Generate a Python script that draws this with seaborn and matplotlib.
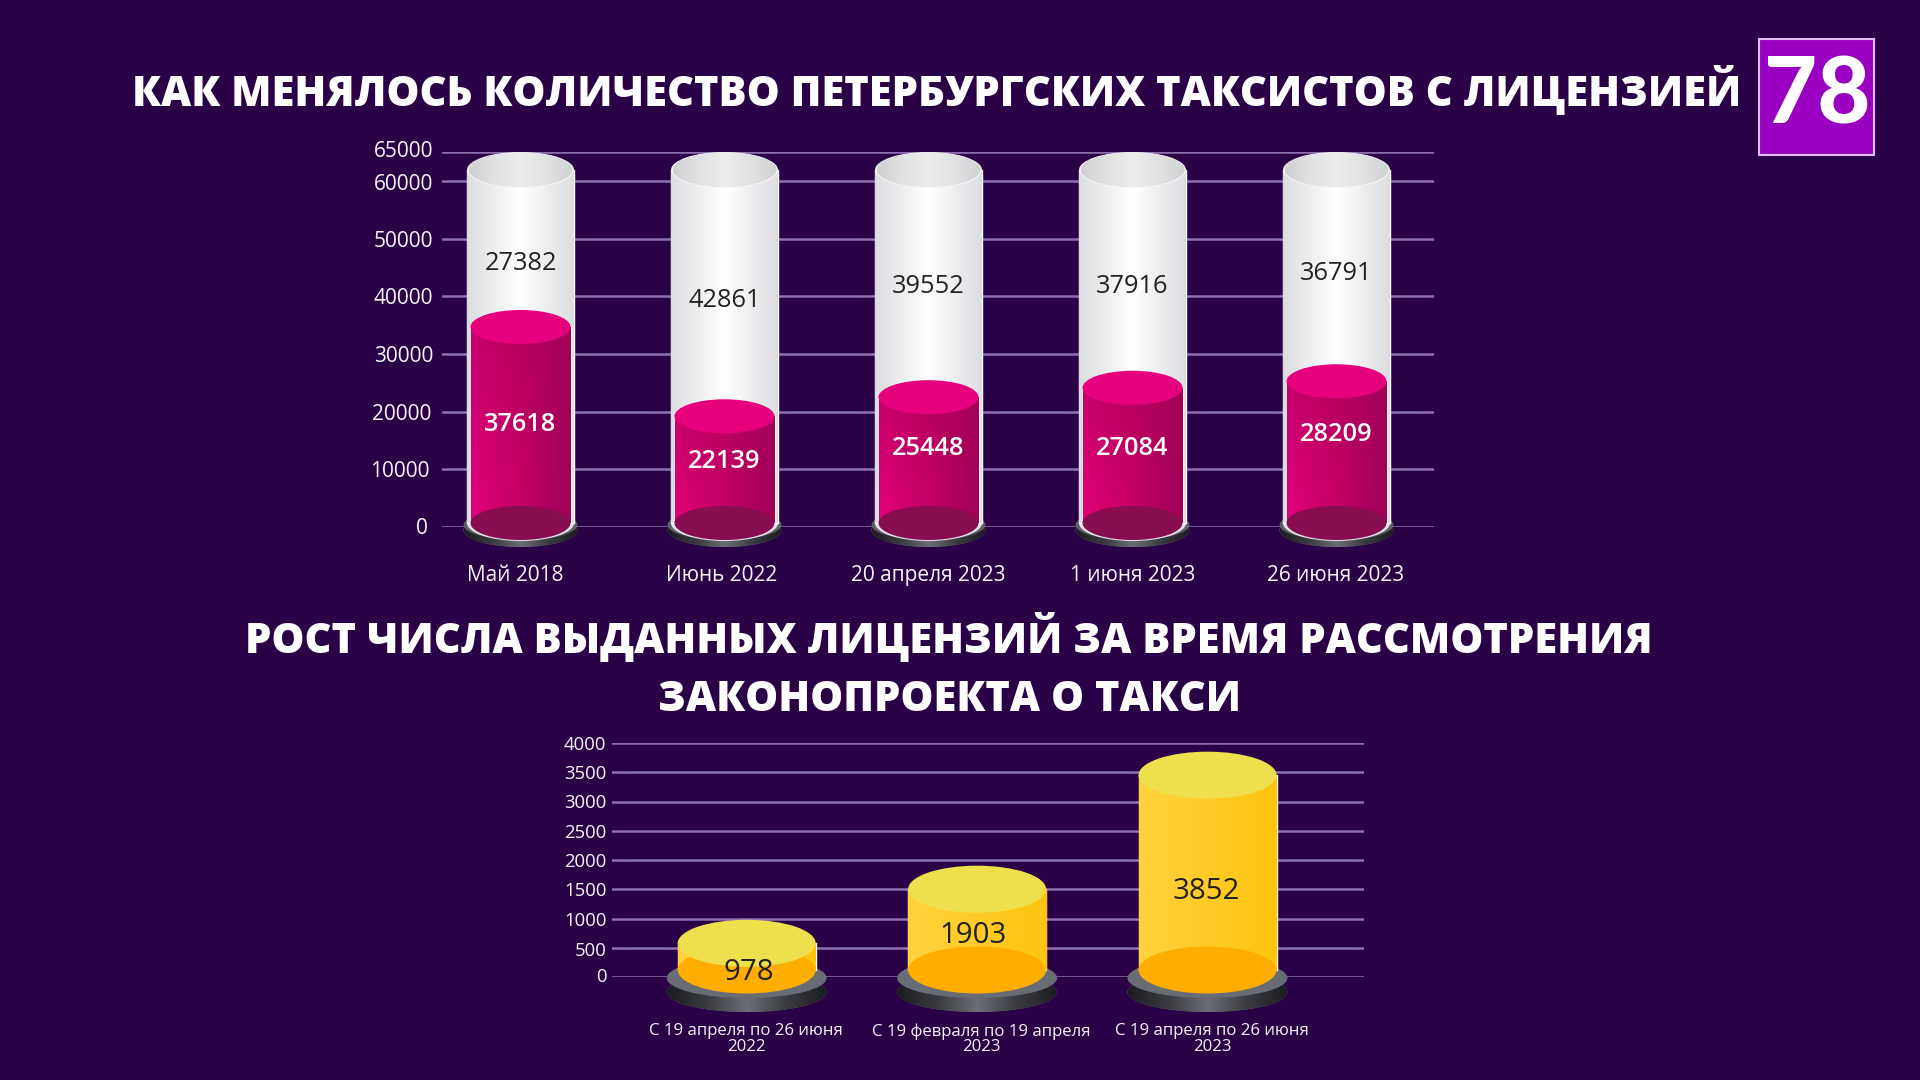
import numpy as np
import matplotlib
matplotlib.use("Agg")
import matplotlib.pyplot as plt
from matplotlib.patches import Ellipse, Rectangle
from matplotlib.colors import to_rgb
from matplotlib.transforms import ScaledTranslation
import seaborn as sns

# ---------- data ----------
top_categories = ["Май 2018", "Июнь 2022", "20 апреля 2023", "1 июня 2023", "26 июня 2023"]
licensed = [37618, 22139, 25448, 27084, 28209]
unlicensed = [27382, 42861, 39552, 37916, 36791]
top_ticks = [0, 10000, 20000, 30000, 40000, 50000, 60000, 65000]

bottom_categories = ["С 19 апреля по 26 июня\n2022", "С 19 февраля по 19 апреля\n2023", "С 19 апреля по 26 июня\n2023"]
issued = [978, 1903, 3852]
bottom_ticks = [0, 500, 1000, 1500, 2000, 2500, 3000, 3500, 4000]

# ---------- label nudges ----------
licensed_nudge = [-1000, 330, 900, 100, 1960]
unlicensed_nudge = [-5600, -4270, -3600, -4340, -2600]
issued_nudge = [-410, -250, -456]
issued_xnudge = [2, -4, -1]
top_xlabel_nudge = [-5, -3, 0, 0, -1]
bottom_xlabel_nudge = [-0.7, 4.4, 4.5]
top_ylabel_shift = [(-5, 1), (-3, 0), (-2, 0), (0, 0), (0, 0), (0, 0), (0, -1), (0, 3)]
bottom_ylabel_shift = [(0, 2), (0, -1), (0, 0), (0, 0), (0, 0), (0, 0), (0, 0), (0, 0), (0, 0)]

BG = "#2A0047"
GRID = "#8F70B0"
sns.set_theme(style="dark", rc={"figure.facecolor": BG, "axes.facecolor": "none", "savefig.facecolor": BG})
plt.rcParams["font.family"] = ["Open Sans", "DejaVu Sans"]

fig = plt.figure(figsize=(19.2, 10.8), dpi=100)


def axes_px(x0, x1, ytop, ybot):
    return fig.add_axes([x0 / 1920, 1 - ybot / 1080, (x1 - x0) / 1920, (ybot - ytop) / 1080])


def grad(ax, bounds, stops_top, stops_bot, clip, z):
    """horizontal colour stops, blended top->bottom, painted inside a clip patch"""
    xs = np.linspace(0, 1, 256)
    def row(stops):
        c = np.array([to_rgb(s) for s in stops])
        p = np.linspace(0, 1, len(stops))
        return np.stack([np.interp(xs, p, c[:, k]) for k in range(3)], axis=1)
    t, b = row(stops_top), row(stops_bot)
    mix = np.linspace(0, 1, 64)[:, None, None]
    img = t[None] * (1 - mix) + b[None] * mix
    xl, yl = ax.get_xlim(), ax.get_ylim()
    im = ax.imshow(img, extent=bounds, origin="upper", aspect="auto", zorder=z, interpolation="bilinear")
    im.set_clip_box(fig.bbox)
    im.set_clip_path(clip)
    ax.set_xlim(xl)
    ax.set_ylim(yl)
    return im


def ell(ax, xc, yc, w, h, color, z, **kw):
    e = Ellipse((xc, yc), w, h, facecolor=color, edgecolor=kw.pop("edgecolor", "none"), zorder=z, clip_on=False, **kw)
    ax.add_patch(e)
    return e


def grad_ell(ax, xc, yc, w, h, stops, z):
    e = ell(ax, xc, yc, w, h, stops[len(stops) // 2], z)
    grad(ax, (xc - w / 2, xc + w / 2, yc - h / 2, yc + h / 2), stops, stops, e, z + 0.1)
    return e


def style_axes(ax, ticks, size, pad, shifts):
    ax.set_yticks(ticks)
    ax.grid(axis="y", color=GRID, lw=1.8)
    ax.grid(axis="x", visible=False)
    ax.set_axisbelow(True)
    sns.despine(ax=ax, left=True, bottom=True)
    ax.set_xlabel("")
    ax.set_ylabel("")
    ax.tick_params(axis="y", length=0, pad=pad, labelsize=size, labelcolor="#F8F4FA")
    ax.tick_params(axis="x", length=0)
    for lab, (dx, dy) in zip(ax.get_yticklabels(), shifts):
        lab.set_transform(lab.get_transform() + ScaledTranslation(dx / 100, dy / 100, fig.dpi_scale_trans))


DARK_SIDE = ["#1C1C20", "#3A3B40", "#6A6E75", "#3A3B40", "#1C1C20"]

# ---------- upper chart ----------
ax = axes_px(442, 1434, 152, 527)
total = [a + b for a, b in zip(licensed, unlicensed)]
sns.barplot(x=top_categories, y=total, color="#EEEEEE", width=107 / 204, saturation=1, ax=ax, zorder=3)
sns.barplot(x=top_categories, y=licensed, color="#C0005F", width=100 / 204, saturation=1, ax=ax, zorder=5)
ax.set_xlim((442 - 520.5) / 204, (1434 - 520.5) / 204)
ax.set_ylim(0, 65000)
style_axes(ax, top_ticks, 15, 6.5, top_ylabel_shift)
ax.set_xticks([i + n / 204 for i, n in enumerate(top_xlabel_nudge)], top_categories)
ax.tick_params(axis="x", pad=27.5, labelsize=15, labelcolor="#F8F4FA")

U = 10000 / 57.69  # data units per pixel, vertically
base = 4 * U
hh_white, hh_pink = 18 * U, 17 * U
WHITE = ["#DCDDE0", "#EEEEF0", "#FFFFFF", "#EEEEF0", "#DCDDE0"]
PINK_T = ["#C8006A", "#B8005F", "#A20058"]
PINK_B = ["#E4007A", "#C60066", "#A00058"]
bars_white = ax.containers[0]
bars_pink = ax.containers[1]
for i, (bw, bp) in enumerate(zip(bars_white, bars_pink)):
    grad_ell(ax, i, -3 * U, 114 / 204, 34 * U, DARK_SIDE, 1.5)
    ell(ax, i, 2 * U, 114 / 204, 30 * U, "#5E6168", 1.8)
    bw.set_y(base)
    bw.set_height(total[i] - hh_white - base)
    x0, wd = bw.get_x(), bw.get_width()
    ell(ax, i, base, wd, 2 * hh_white, "#E4E4E8", 2.5)
    grad(ax, (x0, x0 + wd, base, total[i] - hh_white), WHITE, WHITE, bw, 3.1)
    ell(ax, i, total[i] - hh_white, wd, 2 * hh_white, "#F4F4F6", 3.2)
    grad_ell(ax, i, total[i] - hh_white + 0.3 * U, wd - 3 / 204, 2 * hh_white - 1.5 * U,
             ["#D0D1D2", "#E0E1E2", "#EDEDED", "#E0E1E2", "#D0D1D2"], 3.4)
    bp.set_y(base)
    bp.set_height(licensed[i] - hh_pink - base)
    x0, wd = bp.get_x(), bp.get_width()
    grad(ax, (x0, x0 + wd, base, licensed[i] - hh_pink), PINK_T, PINK_B, bp, 5.1)
    ell(ax, i, licensed[i] - hh_pink, wd, 2 * hh_pink, "#E6007E", 5.5)
    ell(ax, i, base, wd, 2 * hh_pink, "#870D50", 5.5)
    ax.text(i, licensed[i] / 2 + licensed_nudge[i], f"{licensed[i]}", color="white", fontsize=18.3,
            fontweight="semibold", ha="center", va="center", zorder=8)
    ax.text(i, licensed[i] + unlicensed[i] / 2 + unlicensed_nudge[i], f"{unlicensed[i]}", color="#222222",
            fontsize=18.3, ha="center", va="center", zorder=8)

# ---------- lower chart ----------
STEP = 230.4
ax2 = axes_px(612, 1364, 743, 977)
sns.barplot(x=bottom_categories, y=issued, color="#FFC820", width=138 / STEP, saturation=1, ax=ax2, zorder=3)
ax2.set_xlim((612 - 746.7) / STEP, (1364 - 746.7) / STEP)
ax2.set_ylim(0, 4000)
style_axes(ax2, bottom_ticks, 13.3, 4, bottom_ylabel_shift)
ax2.set_xticks([i + n / STEP for i, n in enumerate(bottom_xlabel_nudge)], bottom_categories)
ax2.tick_params(axis="x", pad=33.3, labelsize=12.1, labelcolor="#F8F4FA")
for t in ax2.get_xticklabels():
    t.set_linespacing(0.97)

V = 500 / 29.25
base2 = 7 * V
hh_y = 23.5 * V
YEL = ["#FFD23C", "#FFCB28", "#FFC40E"]
for i, b in enumerate(ax2.containers[0]):
    grad_ell(ax2, i, -15 * V, 160 / STEP, 40 * V, DARK_SIDE, 1.5)
    ell(ax2, i, -1 * V, 160 / STEP, 40 * V, "#686C74", 1.8)
    b.set_y(base2)
    b.set_height(issued[i] - hh_y - base2)
    x0, wd = b.get_x(), b.get_width()
    grad(ax2, (x0, x0 + wd, base2, issued[i] - hh_y), YEL, YEL, b, 3.1)
    ell(ax2, i, base2, wd, 2 * hh_y, "#FFAE00", 3.5)
    ell(ax2, i, issued[i] - hh_y, wd, 2 * hh_y, "#EEE04C", 3.6)
    ax2.text(i + issued_xnudge[i] / STEP, issued[i] / 2 + issued_nudge[i], f"{issued[i]}", color="#222222",
             fontsize=21.2, ha="center", va="center", zorder=8)

# ---------- titles and logo ----------
def ftext(x, y, s, **kw):
    fig.text(x / 1920, 1 - y / 1080, s, ha="center", va="center", color="white", **kw)


ftext(937, 91, "КАК МЕНЯЛОСЬ КОЛИЧЕСТВО ПЕТЕРБУРГСКИХ ТАКСИСТОВ С ЛИЦЕНЗИЕЙ", fontsize=30, fontweight="extra bold")
ftext(949, 638, "РОСТ ЧИСЛА ВЫДАННЫХ ЛИЦЕНЗИЙ ЗА ВРЕМЯ РАССМОТРЕНИЯ", fontsize=30, fontweight="extra bold")
ftext(949, 700, "ЗАКОНОПРОЕКТА О ТАКСИ", fontsize=30, fontweight="extra bold")

fig.add_artist(Rectangle((1758.5 / 1920, 1 - 155 / 1080), 115.5 / 1920, 116 / 1080, transform=fig.transFigure,
                         facecolor="#9A00C2", edgecolor="#E6BDF0", lw=1.5))
ftext(1817, 97, "78", fontsize=66, fontweight="black", family=["Lato", "DejaVu Sans"])

fig.savefig("out.png", dpi=100, facecolor=BG)
